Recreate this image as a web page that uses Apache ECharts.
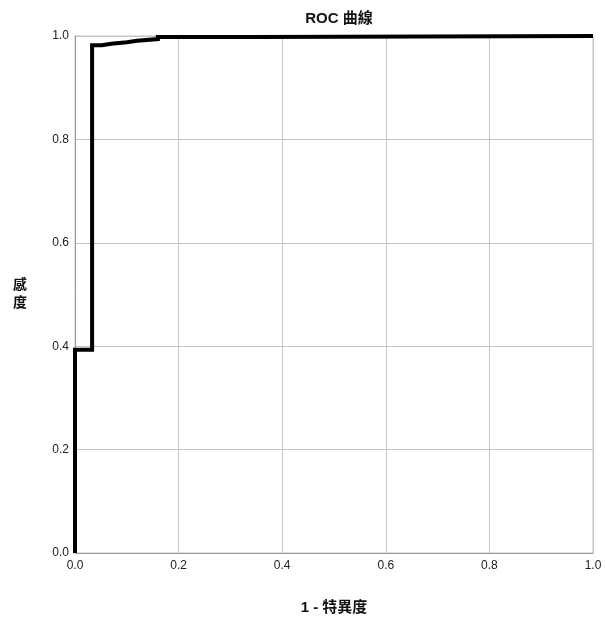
<!DOCTYPE html>
<html>
<head>
<meta charset="utf-8">
<script src="https://cdn.jsdelivr.net/npm/echarts@6/dist/echarts.min.js"></script>
<style>html,body{margin:0;padding:0;background:#fff}#c{width:606px;height:625px}</style>
</head>
<body>
<div id="c"></div>
<script>
const fpr = [0, 0, 0.033, 0.052, 0.070, 0.100, 0.120, 0.160, 0.350, 1.0];
const tpr = [0, 0.393, 0.982, 0.985, 0.988, 0.991, 0.994, 0.998, 1.0, 1.0];
const ticks = [0, 0.2, 0.4, 0.6, 0.8, 1.0];
const titleText = 'ROC 曲線';
const xName = '1 - 特異度';
const yName = '感\n度';

const latin = '"Liberation Sans", Arial, sans-serif';
const cjk = '"Liberation Sans", "Noto Sans CJK TC", sans-serif';
const chart = echarts.init(document.getElementById('c'), null, {renderer: 'canvas'});
const axisCommon = {
  type: 'value', min: ticks[0], max: ticks[ticks.length - 1], interval: 0.2,
  axisLine: {show: true, lineStyle: {color: '#9a9a9a', width: 1}},
  axisTick: {show: false},
  splitLine: {show: true, lineStyle: {color: '#c4c4c4', width: 1}},
  axisLabel: {color: '#222', fontSize: 12, fontFamily: latin, formatter: v => v.toFixed(1)}
};
chart.setOption({
  animation: false,
  backgroundColor: '#fff',
  title: {text: titleText, left: 334, top: 6, textAlign: 'center',
    textStyle: {fontSize: 15, fontWeight: 'bold', color: '#111', fontFamily: cjk}},
  grid: {left: 75, right: 13, top: 36, bottom: 72, show: true, borderColor: '#c4c4c4', borderWidth: 1},
  xAxis: Object.assign({}, axisCommon, {
    name: xName, nameLocation: 'middle', nameGap: 47,
    nameTextStyle: {fontSize: 15, fontWeight: 'bold', color: '#111', fontFamily: cjk},
    axisLabel: Object.assign({}, axisCommon.axisLabel, {margin: 7, showMaxLabel: true, showMinLabel: true})
  }),
  yAxis: Object.assign({}, axisCommon, {
    name: yName, nameLocation: 'middle', nameGap: 48, nameRotate: 0,
    nameTextStyle: {fontSize: 14, fontWeight: 'bold', color: '#111', fontFamily: cjk, lineHeight: 18},
    axisLabel: Object.assign({}, axisCommon.axisLabel, {margin: 6})
  }),
  series: [{
    type: 'line', step: 'end', symbol: 'none', clip: false,
    data: fpr.map((x, i) => [x, tpr[i]]),
    lineStyle: {color: '#000', width: 4, join: 'miter'}
  }]
});
</script>
</body>
</html>
